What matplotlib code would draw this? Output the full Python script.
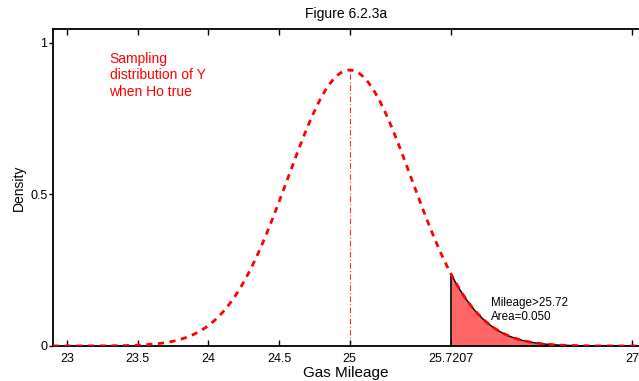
import numpy as np
import matplotlib
matplotlib.use("Agg")
import matplotlib.pyplot as plt

# sampling distribution of the mean under H0
mu0 = 25.0
se = 0.4382          # sigma / sqrt(n)
crit = 25.7207       # upper 5% cut-off
area = 0.050
xticks = [23, 23.5, 24, 24.5, 25, 25.7207, 27]
xtick_labels = ["23", "23.5", "24", "24.5", "25", "25.7207", "27"]
yticks = [0, 0.5, 1]
ytick_labels = ["0", "0.5", "1"]

plt.rcParams["font.family"] = ["Liberation Sans", "DejaVu Sans"]

fig = plt.figure(figsize=(6.39, 3.81), dpi=100)
ax = fig.add_axes([0.083, 0.092, 0.917, 0.832])

x = np.linspace(22.9, 27.1, 600)
pdf = np.exp(-0.5 * ((x - mu0) / se) ** 2) / (se * np.sqrt(2 * np.pi))
peak = 1 / (se * np.sqrt(2 * np.pi))

# shaded rejection region
xt = x[x >= crit]
xt = np.concatenate([[crit], xt])
pt = np.exp(-0.5 * ((xt - mu0) / se) ** 2) / (se * np.sqrt(2 * np.pi))
ax.fill_between(xt, 0, pt, color="#ff6666", lw=0, zorder=2)
ax.plot(xt, pt, color="black", lw=1.0, zorder=3)
ax.plot([crit, crit], [0, pt[0]], color="black", lw=1.2, zorder=3)

ax.plot(x, pdf, color="red", lw=2.0, ls=(0, (2.2, 2.0)), zorder=4)
ax.plot([mu0, mu0], [0, peak], color="#ff3333", lw=0.8, ls=(0, (5, 2, 1, 2)), zorder=1)

ax.text(23.3, 0.97, "Sampling\ndistribution of Y\nwhen Ho true", color="red",
        fontsize=10, va="top", ha="left", linespacing=1.22)
ax.text(26.0, 0.162, "Mileage>25.72\nArea=0.050", color="black",
        fontsize=8.4, va="top", ha="left", linespacing=1.2, zorder=5)

ax.set_xlim(22.9, 27.05)
ax.set_ylim(0, 1.046)
ax.set_xticks(xticks)
ax.set_xticklabels(xtick_labels)
ax.set_yticks(yticks)
ax.set_yticklabels(ytick_labels)
ax.tick_params(axis="x", direction="in", top=True, length=4, width=1,
               labelsize=9, pad=5)
ax.tick_params(axis="y", direction="out", length=3, width=1, labelsize=9, pad=1)
ax.spines["right"].set_visible(False)
for s in ["left", "bottom", "top"]:
    ax.spines[s].set_linewidth(1.3)

ax.set_title("Figure 6.2.3a", fontsize=10, pad=8)
ax.set_xlabel("Gas Mileage", fontsize=11, labelpad=1)
ax.set_ylabel("Density", fontsize=10, labelpad=3)

fig.savefig("out.png", dpi=100)
